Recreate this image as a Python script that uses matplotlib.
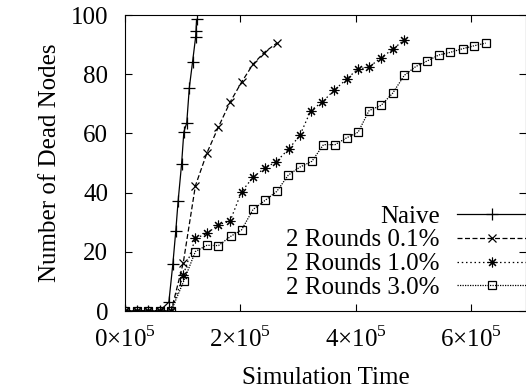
import matplotlib
matplotlib.use("Agg")
import matplotlib.pyplot as plt
from matplotlib.ticker import FuncFormatter

plt.rcParams['font.family'] = ['Liberation Serif', 'DejaVu Serif']
plt.rcParams['mathtext.fontset'] = 'custom'
plt.rcParams['mathtext.rm'] = 'Liberation Serif'

# 数据 (x 单位: 1e5)
naive_x = [0, 0.2, 0.4, 0.6, 0.76, 0.83, 0.88, 0.92, 0.98, 1.02, 1.07, 1.115, 1.17, 1.225, 1.23, 1.24]
naive_y = [0, 0, 0, 0, 3, 16, 27, 37, 49.5, 60.5, 63.5, 75.5, 84, 92.7, 94.5, 98.5]

r01_x = [0, 0.2, 0.4, 0.6, 0.8, 1.01, 1.22, 1.42, 1.62, 1.82, 2.02, 2.22, 2.41, 2.63]
r01_y = [0, 0, 0, 0, 0, 16.3, 42.3, 53.4, 62.2, 70.5, 77.3, 83.4, 87.3, 90.5]

r10_x = [0, 0.2, 0.4, 0.6, 0.8, 1.01, 1.22, 1.42, 1.62, 1.82, 2.02, 2.22, 2.43, 2.62,
         2.84, 3.03, 3.22, 3.42, 3.62, 3.84, 4.03, 4.23, 4.44, 4.64, 4.84]
r10_y = [0, 0, 0, 0, 0, 12.1, 24.5, 26.2, 29.2, 30.3, 40.3, 45.2, 48.4, 50.4,
         54.8, 59.3, 67.7, 70.6, 74.5, 78.3, 81.7, 82.4, 85.6, 88.4, 91.6]

r30_x = [0, 0.2, 0.4, 0.6, 0.8, 1.02, 1.22, 1.42, 1.62, 1.83, 2.02, 2.22, 2.43, 2.63,
         2.83, 3.03, 3.24, 3.44, 3.64, 3.84, 4.04, 4.23, 4.44, 4.64, 4.84, 5.04,
         5.24, 5.44, 5.64, 5.85, 6.05, 6.25]
r30_y = [0, 0, 0, 0, 0, 10.2, 20.1, 22.2, 22.1, 25.2, 27.4, 34.3, 37.4, 40.4,
         45.9, 48.6, 50.6, 56.2, 56.2, 58.5, 60.4, 67.7, 69.5, 73.6, 79.6, 82.6,
         84.5, 86.5, 87.4, 88.6, 89.6, 90.5]

fs = 18

fig = plt.figure(figsize=(5.26, 3.91), dpi=100)
ax = fig.add_axes([125 / 526, 1 - 311 / 391, 401 / 526, 296 / 391])

e5 = 1e5
ax.plot([v * e5 for v in naive_x], naive_y, color='black', lw=0.9, ls='-',
        marker='+', ms=8, mew=0.9, label='Naive')
ax.plot([v * e5 for v in r01_x], r01_y, color='black', lw=0.9, ls=(0, (4, 2)),
        marker='x', ms=6, mew=0.9, label='2 Rounds 0.1%')
ax.plot([v * e5 for v in r10_x], r10_y, color='black', lw=0.9, ls=(0, (1.2, 2.2)),
        marker=(8, 2, 0), ms=7, mew=0.8, label='2 Rounds 1.0%')
ax.plot([v * e5 for v in r30_x], r30_y, color='black', lw=0.9, ls=(0, (1, 1)),
        marker='s', ms=6, mew=0.9, mfc='none', label='2 Rounds 3.0%')

ax.set_xlim(0, 6.95e5)
ax.set_ylim(0, 100)
ax.set_xticks([0, 2e5, 4e5, 6e5])
ax.set_yticks([0, 20, 40, 60, 80, 100])
ax.xaxis.set_major_formatter(FuncFormatter(lambda v, p: '%d×10$^{\\mathrm{5}}$' % round(v / 1e5)))
ax.tick_params(direction='in', top=True, right=True, length=5, width=0.8,
               labelsize=fs)
ax.tick_params(axis='y', pad=12)
ax.tick_params(axis='x', pad=11)

ax.set_xlabel('Simulation Time', fontsize=fs, labelpad=11)
ax.set_ylabel('Number of Dead Nodes', fontsize=fs, labelpad=7)

ax.legend(loc='lower right', frameon=False, fontsize=fs, markerfirst=False,
          handlelength=2.76, handletextpad=0.68, labelspacing=0.05,
          borderpad=0, borderaxespad=0, bbox_to_anchor=(1.0, 12 / 296))

fig.savefig('out.png', dpi=100)
